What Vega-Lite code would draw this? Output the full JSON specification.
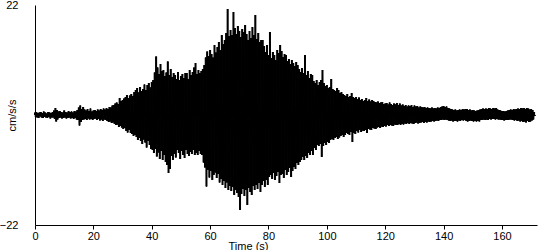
{
"$schema":"https://vega.github.io/schema/vega-lite/v6.json",
"width":502,"height":220,
"autosize":{"type":"none"},
"padding":{"left":35,"top":5,"right":13,"bottom":25},
"background":"white",
"config":{"view":{"stroke":null},"font":"Liberation Sans",
"axis":{"grid":false,"domainColor":"black","tickColor":"black","labelColor":"black","titleColor":"black","labelFont":"Liberation Sans","titleFont":"Liberation Sans","labelFontSize":11,"titleFontSize":11,"titleFontWeight":"normal","domainWidth":1,"tickWidth":1}},
"data":{"values":[
{"t":0,"a":0.5},{"t":0.25,"a":-0.4},{"t":0.5,"a":0.6},{"t":0.75,"a":-0.5},{"t":1,"a":0.4},{"t":1.25,"a":-0.6},{"t":1.5,"a":0.5},{"t":1.75,"a":-0.3},{"t":2,"a":0.6},{"t":2.25,"a":-0.5},{"t":2.5,"a":0.4},{"t":2.75,"a":-0.6},{"t":3,"a":0.7},{"t":3.25,"a":-0.4},{"t":3.5,"a":0.5},{"t":3.75,"a":-0.5},{"t":4,"a":0.3},{"t":4.25,"a":-0.6},{"t":4.5,"a":0.6},{"t":4.75,"a":-0.4},{"t":5,"a":0.5},{"t":5.25,"a":-0.7},{"t":5.5,"a":0.4},{"t":5.75,"a":-0.5},{"t":6,"a":0.6},{"t":6.25,"a":-0.5},{"t":6.5,"a":0.9},{"t":6.75,"a":-0.8},{"t":7,"a":1.4},{"t":7.25,"a":-1.3},{"t":7.5,"a":1.0},{"t":7.75,"a":-0.9},{"t":8,"a":0.7},{"t":8.25,"a":-0.6},{"t":8.5,"a":0.8},{"t":8.75,"a":-0.5},{"t":9,"a":0.6},{"t":9.25,"a":-0.7},{"t":9.5,"a":0.5},{"t":9.75,"a":-0.6},
{"t":10,"a":0.9},{"t":10.25,"a":-0.5},{"t":10.5,"a":0.6},{"t":10.75,"a":-0.7},{"t":11,"a":0.5},{"t":11.25,"a":-0.6},{"t":11.5,"a":0.8},{"t":11.75,"a":-0.5},{"t":12,"a":0.6},{"t":12.25,"a":-0.7},{"t":12.5,"a":0.7},{"t":12.75,"a":-0.6},{"t":13,"a":0.5},{"t":13.25,"a":-0.8},{"t":13.5,"a":0.8},{"t":13.75,"a":-0.6},{"t":14,"a":0.7},{"t":14.25,"a":-0.9},{"t":14.5,"a":1.0},{"t":14.75,"a":-1.0},{"t":15,"a":1.5},{"t":15.25,"a":-2.1},{"t":15.5,"a":1.9},{"t":15.75,"a":-1.4},{"t":16,"a":1.2},{"t":16.25,"a":-1.0},{"t":16.5,"a":1.6},{"t":16.75,"a":-0.9},{"t":17,"a":1.1},{"t":17.25,"a":-0.8},{"t":17.5,"a":0.9},{"t":17.75,"a":-1.0},{"t":18,"a":1.2},{"t":18.25,"a":-0.7},{"t":18.5,"a":0.8},{"t":18.75,"a":-0.9},{"t":19,"a":1.3},{"t":19.25,"a":-0.8},{"t":19.5,"a":0.7},{"t":19.75,"a":-1.0},
{"t":20,"a":0.9},{"t":20.25,"a":-0.8},{"t":20.5,"a":1.0},{"t":20.75,"a":-0.7},{"t":21,"a":0.8},{"t":21.25,"a":-1.0},{"t":21.5,"a":1.1},{"t":21.75,"a":-0.8},{"t":22,"a":0.9},{"t":22.25,"a":-1.1},{"t":22.5,"a":1.2},{"t":22.75,"a":-0.9},{"t":23,"a":1.0},{"t":23.25,"a":-1.2},{"t":23.5,"a":1.3},{"t":23.75,"a":-0.9},{"t":24,"a":1.1},{"t":24.25,"a":-1.0},{"t":24.5,"a":1.4},{"t":24.75,"a":-1.2},{"t":25,"a":1.2},{"t":25.25,"a":-1.4},{"t":25.5,"a":1.6},{"t":25.75,"a":-1.3},{"t":26,"a":1.5},{"t":26.25,"a":-1.6},{"t":26.5,"a":1.9},{"t":26.75,"a":-1.5},{"t":27,"a":2.0},{"t":27.25,"a":-1.8},{"t":27.5,"a":2.3},{"t":27.75,"a":-2.0},{"t":28,"a":2.5},{"t":28.25,"a":-1.9},{"t":28.5,"a":2.2},{"t":28.75,"a":-2.4},{"t":29,"a":3.4},{"t":29.25,"a":-2.2},{"t":29.5,"a":2.8},{"t":29.75,"a":-2.5},
{"t":30,"a":3.0},{"t":30.25,"a":-2.8},{"t":30.5,"a":3.3},{"t":30.75,"a":-2.6},{"t":31,"a":3.6},{"t":31.25,"a":-3.2},{"t":31.5,"a":4.0},{"t":31.75,"a":-3.5},{"t":32,"a":3.4},{"t":32.25,"a":-3.0},{"t":32.5,"a":3.9},{"t":32.75,"a":-3.6},{"t":33,"a":4.2},{"t":33.25,"a":-3.8},{"t":33.5,"a":3.8},{"t":33.75,"a":-4.2},{"t":34,"a":4.6},{"t":34.25,"a":-4.0},{"t":34.5,"a":5.0},{"t":34.75,"a":-4.4},{"t":35,"a":5.4},{"t":35.25,"a":-5.0},{"t":35.5,"a":4.5},{"t":35.75,"a":-4.6},{"t":36,"a":5.6},{"t":36.25,"a":-5.2},{"t":36.5,"a":4.8},{"t":36.75,"a":-5.8},{"t":37,"a":5.2},{"t":37.25,"a":-4.9},{"t":37.5,"a":6.1},{"t":37.75,"a":-5.5},{"t":38,"a":5.0},{"t":38.25,"a":-6.5},{"t":38.5,"a":6.0},{"t":38.75,"a":-5.2},{"t":39,"a":6.4},{"t":39.25,"a":-6.0},{"t":39.5,"a":5.5},{"t":39.75,"a":-6.8},
{"t":40,"a":6.6},{"t":40.25,"a":-7.0},{"t":40.5,"a":7.0},{"t":40.75,"a":-7.6},{"t":41,"a":8.5},{"t":41.25,"a":-6.8},{"t":41.5,"a":11.7},{"t":41.75,"a":-8.3},{"t":42,"a":9.5},{"t":42.25,"a":-7.5},{"t":42.5,"a":8.2},{"t":42.75,"a":-8.8},{"t":43,"a":10.2},{"t":43.25,"a":-7.2},{"t":43.5,"a":8.8},{"t":43.75,"a":-9.0},{"t":44,"a":9.0},{"t":44.25,"a":-8.0},{"t":44.5,"a":7.8},{"t":44.75,"a":-9.4},{"t":45,"a":8.5},{"t":45.25,"a":-10.0},{"t":45.5,"a":10.7},{"t":45.75,"a":-11.6},{"t":46,"a":8.0},{"t":46.25,"a":-10.8},{"t":46.5,"a":9.2},{"t":46.75,"a":-8.2},{"t":47,"a":7.6},{"t":47.25,"a":-9.0},{"t":47.5,"a":8.4},{"t":47.75,"a":-7.8},{"t":48,"a":8.0},{"t":48.25,"a":-8.5},{"t":48.5,"a":7.2},{"t":48.75,"a":-7.0},{"t":49,"a":8.6},{"t":49.25,"a":-7.6},{"t":49.5,"a":7.0},{"t":49.75,"a":-8.8},
{"t":50,"a":7.8},{"t":50.25,"a":-7.2},{"t":50.5,"a":8.2},{"t":50.75,"a":-8.0},{"t":51,"a":7.4},{"t":51.25,"a":-8.6},{"t":51.5,"a":8.4},{"t":51.75,"a":-7.0},{"t":52,"a":8.4},{"t":52.25,"a":-7.8},{"t":52.5,"a":7.2},{"t":52.75,"a":-8.2},{"t":53,"a":9.0},{"t":53.25,"a":-7.4},{"t":53.5,"a":8.0},{"t":53.75,"a":-7.8},{"t":54,"a":8.6},{"t":54.25,"a":-7.0},{"t":54.5,"a":9.5},{"t":54.75,"a":-8.0},{"t":55,"a":10.4},{"t":55.25,"a":-7.6},{"t":55.5,"a":8.2},{"t":55.75,"a":-8.0},{"t":56,"a":9.0},{"t":56.25,"a":-7.2},{"t":56.5,"a":8.4},{"t":56.75,"a":-7.8},{"t":57,"a":8.8},{"t":57.25,"a":-8.0},{"t":57.5,"a":9.2},{"t":57.75,"a":-9.5},{"t":58,"a":10.0},{"t":58.25,"a":-10.5},{"t":58.5,"a":11.5},{"t":58.75,"a":-14.3},{"t":59,"a":12.7},{"t":59.25,"a":-11.0},{"t":59.5,"a":11.8},{"t":59.75,"a":-12.5},
{"t":60,"a":13.0},{"t":60.25,"a":-11.2},{"t":60.5,"a":12.2},{"t":60.75,"a":-13.0},{"t":61,"a":11.5},{"t":61.25,"a":-12.0},{"t":61.5,"a":14.0},{"t":61.75,"a":-11.5},{"t":62,"a":12.5},{"t":62.25,"a":-12.6},{"t":62.5,"a":13.6},{"t":62.75,"a":-11.8},{"t":63,"a":14.6},{"t":63.25,"a":-13.5},{"t":63.5,"a":13.0},{"t":63.75,"a":-12.8},{"t":64,"a":16.0},{"t":64.25,"a":-14.0},{"t":64.5,"a":14.2},{"t":64.75,"a":-13.2},{"t":65,"a":15.0},{"t":65.25,"a":-14.6},{"t":65.5,"a":16.4},{"t":65.75,"a":-13.5},{"t":66,"a":21.2},{"t":66.25,"a":-15.0},{"t":66.5,"a":15.8},{"t":66.75,"a":-14.2},{"t":67,"a":17.0},{"t":67.25,"a":-15.2},{"t":67.5,"a":16.0},{"t":67.75,"a":-14.4},{"t":68,"a":20.6},{"t":68.25,"a":-16.0},{"t":68.5,"a":17.4},{"t":68.75,"a":-15.0},{"t":69,"a":16.2},{"t":69.25,"a":-15.6},{"t":69.5,"a":17.8},{"t":69.75,"a":-16.4},
{"t":70,"a":16.8},{"t":70.25,"a":-19.0},{"t":70.5,"a":15.6},{"t":70.75,"a":-15.8},{"t":71,"a":17.2},{"t":71.25,"a":-14.8},{"t":71.5,"a":16.6},{"t":71.75,"a":-16.2},{"t":72,"a":18.0},{"t":72.25,"a":-15.0},{"t":72.5,"a":16.2},{"t":72.75,"a":-18.0},{"t":73,"a":15.0},{"t":73.25,"a":-14.6},{"t":73.5,"a":16.8},{"t":73.75,"a":-15.4},{"t":74,"a":15.4},{"t":74.25,"a":-16.0},{"t":74.5,"a":17.6},{"t":74.75,"a":-14.2},{"t":75,"a":16.0},{"t":75.25,"a":-15.0},{"t":75.5,"a":20.0},{"t":75.75,"a":-14.0},{"t":76,"a":15.2},{"t":76.25,"a":-14.8},{"t":76.5,"a":16.4},{"t":76.75,"a":-13.6},{"t":77,"a":14.6},{"t":77.25,"a":-15.4},{"t":77.5,"a":15.0},{"t":77.75,"a":-14.0},{"t":78,"a":15.0},{"t":78.25,"a":-13.2},{"t":78.5,"a":13.8},{"t":78.75,"a":-14.4},{"t":79,"a":12.6},{"t":79.25,"a":-13.0},{"t":79.5,"a":14.0},{"t":79.75,"a":-14.0},
{"t":80,"a":12.0},{"t":80.25,"a":-12.4},{"t":80.5,"a":16.6},{"t":80.75,"a":-12.0},{"t":81,"a":11.4},{"t":81.25,"a":-12.8},{"t":81.5,"a":12.6},{"t":81.75,"a":-11.6},{"t":82,"a":12.0},{"t":82.25,"a":-13.0},{"t":82.5,"a":11.0},{"t":82.75,"a":-12.2},{"t":83,"a":13.0},{"t":83.25,"a":-11.4},{"t":83.5,"a":12.4},{"t":83.75,"a":-13.6},{"t":84,"a":14.0},{"t":84.25,"a":-12.0},{"t":84.5,"a":12.8},{"t":84.75,"a":-11.8},{"t":85,"a":11.6},{"t":85.25,"a":-12.6},{"t":85.5,"a":12.2},{"t":85.75,"a":-11.0},{"t":86,"a":12.0},{"t":86.25,"a":-12.0},{"t":86.5,"a":10.8},{"t":86.75,"a":-11.4},{"t":87,"a":11.2},{"t":87.25,"a":-10.6},{"t":87.5,"a":10.2},{"t":87.75,"a":-12.4},{"t":88,"a":11.0},{"t":88.25,"a":-11.2},{"t":88.5,"a":10.4},{"t":88.75,"a":-10.4},{"t":89,"a":9.8},{"t":89.25,"a":-10.8},{"t":89.5,"a":10.6},{"t":89.75,"a":-9.6},
{"t":90,"a":10.0},{"t":90.25,"a":-10.0},{"t":90.5,"a":9.2},{"t":90.75,"a":-9.4},{"t":91,"a":8.6},{"t":91.25,"a":-9.0},{"t":91.5,"a":9.4},{"t":91.75,"a":-8.4},{"t":92,"a":8.4},{"t":92.25,"a":-9.0},{"t":92.5,"a":12.0},{"t":92.75,"a":-8.2},{"t":93,"a":8.0},{"t":93.25,"a":-8.6},{"t":93.5,"a":8.8},{"t":93.75,"a":-7.6},{"t":94,"a":7.4},{"t":94.25,"a":-8.0},{"t":94.5,"a":8.2},{"t":94.75,"a":-7.2},{"t":95,"a":8.0},{"t":95.25,"a":-8.0},{"t":95.5,"a":6.8},{"t":95.75,"a":-6.6},{"t":96,"a":6.4},{"t":96.25,"a":-7.0},{"t":96.5,"a":7.0},{"t":96.75,"a":-6.0},{"t":97,"a":6.0},{"t":97.25,"a":-6.2},{"t":97.5,"a":6.6},{"t":97.75,"a":-5.8},{"t":98,"a":7.0},{"t":98.25,"a":-8.4},{"t":98.5,"a":9.0},{"t":98.75,"a":-6.2},{"t":99,"a":6.4},{"t":99.25,"a":-5.6},{"t":99.5,"a":5.8},{"t":99.75,"a":-6.0},
{"t":100,"a":6.0},{"t":100.25,"a":-5.4},{"t":100.5,"a":5.4},{"t":100.75,"a":-5.6},{"t":101,"a":5.6},{"t":101.25,"a":-5.0},{"t":101.5,"a":7.2},{"t":101.75,"a":-4.8},{"t":102,"a":5.2},{"t":102.25,"a":-5.0},{"t":102.5,"a":5.0},{"t":102.75,"a":-4.6},{"t":103,"a":4.8},{"t":103.25,"a":-4.4},{"t":103.5,"a":5.4},{"t":103.75,"a":-4.8},{"t":104,"a":5.0},{"t":104.25,"a":-4.5},{"t":104.5,"a":4.4},{"t":104.75,"a":-4.2},{"t":105,"a":4.6},{"t":105.25,"a":-4.0},{"t":105.5,"a":4.2},{"t":105.75,"a":-4.4},{"t":106,"a":4.0},{"t":106.25,"a":-4.0},{"t":106.5,"a":3.8},{"t":106.75,"a":-3.6},{"t":107,"a":4.2},{"t":107.25,"a":-3.8},{"t":107.5,"a":3.6},{"t":107.75,"a":-4.0},{"t":108,"a":3.8},{"t":108.25,"a":-3.4},{"t":108.5,"a":4.4},{"t":108.75,"a":-5.4},{"t":109,"a":3.6},{"t":109.25,"a":-3.6},{"t":109.5,"a":3.4},{"t":109.75,"a":-3.8},
{"t":110,"a":3.6},{"t":110.25,"a":-3.2},{"t":110.5,"a":3.2},{"t":110.75,"a":-3.5},{"t":111,"a":3.5},{"t":111.25,"a":-3.0},{"t":111.5,"a":3.0},{"t":111.75,"a":-3.4},{"t":112,"a":3.2},{"t":112.25,"a":-3.1},{"t":112.5,"a":2.8},{"t":112.75,"a":-3.2},{"t":113,"a":3.0},{"t":113.25,"a":-3.0},{"t":113.5,"a":3.4},{"t":113.75,"a":-3.6},{"t":114,"a":2.8},{"t":114.25,"a":-2.8},{"t":114.5,"a":3.1},{"t":114.75,"a":-2.9},{"t":115,"a":2.7},{"t":115.25,"a":-3.0},{"t":115.5,"a":3.0},{"t":115.75,"a":-2.6},{"t":116,"a":2.8},{"t":116.25,"a":-2.7},{"t":116.5,"a":2.6},{"t":116.75,"a":-2.8},{"t":117,"a":2.5},{"t":117.25,"a":-2.5},{"t":117.5,"a":2.7},{"t":117.75,"a":-2.4},{"t":118,"a":2.4},{"t":118.25,"a":-2.6},{"t":118.5,"a":2.5},{"t":118.75,"a":-2.3},{"t":119,"a":2.6},{"t":119.25,"a":-2.4},{"t":119.5,"a":2.2},{"t":119.75,"a":-2.2},
{"t":120,"a":2.3},{"t":120.25,"a":-2.3},{"t":120.5,"a":2.4},{"t":120.75,"a":-2.0},{"t":121,"a":2.1},{"t":121.25,"a":-2.2},{"t":121.5,"a":2.5},{"t":121.75,"a":-2.0},{"t":122,"a":2.2},{"t":122.25,"a":-2.1},{"t":122.5,"a":2.0},{"t":122.75,"a":-2.2},{"t":123,"a":2.3},{"t":123.25,"a":-1.9},{"t":123.5,"a":2.1},{"t":123.75,"a":-2.0},{"t":124,"a":2.4},{"t":124.25,"a":-2.0},{"t":124.5,"a":2.0},{"t":124.75,"a":-1.8},{"t":125,"a":2.3},{"t":125.25,"a":-2.0},{"t":125.5,"a":1.9},{"t":125.75,"a":-1.8},{"t":126,"a":2.1},{"t":126.25,"a":-1.9},{"t":126.5,"a":1.8},{"t":126.75,"a":-1.7},{"t":127,"a":2.0},{"t":127.25,"a":-1.8},{"t":127.5,"a":1.7},{"t":127.75,"a":-1.6},{"t":128,"a":1.9},{"t":128.25,"a":-1.8},{"t":128.5,"a":1.8},{"t":128.75,"a":-1.6},{"t":129,"a":2.0},{"t":129.25,"a":-1.7},{"t":129.5,"a":1.6},{"t":129.75,"a":-1.8},
{"t":130,"a":1.9},{"t":130.25,"a":-1.6},{"t":130.5,"a":1.7},{"t":130.75,"a":-1.5},{"t":131,"a":1.8},{"t":131.25,"a":-1.7},{"t":131.5,"a":1.5},{"t":131.75,"a":-1.6},{"t":132,"a":1.7},{"t":132.25,"a":-1.5},{"t":132.5,"a":1.6},{"t":132.75,"a":-1.4},{"t":133,"a":1.5},{"t":133.25,"a":-1.6},{"t":133.5,"a":1.6},{"t":133.75,"a":-1.4},{"t":134,"a":1.4},{"t":134.25,"a":-1.5},{"t":134.5,"a":1.5},{"t":134.75,"a":-1.3},{"t":135,"a":1.4},{"t":135.25,"a":-1.4},{"t":135.5,"a":1.3},{"t":135.75,"a":-1.3},{"t":136,"a":1.5},{"t":136.25,"a":-1.2},{"t":136.5,"a":1.3},{"t":136.75,"a":-1.3},{"t":137,"a":1.4},{"t":137.25,"a":-1.2},{"t":137.5,"a":1.3},{"t":137.75,"a":-1.1},{"t":138,"a":1.5},{"t":138.25,"a":-1.2},{"t":138.5,"a":1.4},{"t":138.75,"a":-1.0},{"t":139,"a":1.6},{"t":139.25,"a":-1.0},{"t":139.5,"a":1.7},{"t":139.75,"a":-0.9},
{"t":140,"a":1.8},{"t":140.25,"a":-1.0},{"t":140.5,"a":1.6},{"t":140.75,"a":-0.9},{"t":141,"a":1.7},{"t":141.25,"a":-1.0},{"t":141.5,"a":1.4},{"t":141.75,"a":-1.1},{"t":142,"a":1.3},{"t":142.25,"a":-1.2},{"t":142.5,"a":1.2},{"t":142.75,"a":-1.1},{"t":143,"a":1.1},{"t":143.25,"a":-1.3},{"t":143.5,"a":1.0},{"t":143.75,"a":-1.2},{"t":144,"a":1.1},{"t":144.25,"a":-1.2},{"t":144.5,"a":0.9},{"t":144.75,"a":-1.3},{"t":145,"a":1.0},{"t":145.25,"a":-1.1},{"t":145.5,"a":1.1},{"t":145.75,"a":-1.2},{"t":146,"a":1.0},{"t":146.25,"a":-1.0},{"t":146.5,"a":1.2},{"t":146.75,"a":-1.1},{"t":147,"a":1.1},{"t":147.25,"a":-1.0},{"t":147.5,"a":1.2},{"t":147.75,"a":-1.2},{"t":148,"a":1.2},{"t":148.25,"a":-1.3},{"t":148.5,"a":1.0},{"t":148.75,"a":-1.2},{"t":149,"a":1.1},{"t":149.25,"a":-1.1},{"t":149.5,"a":0.9},{"t":149.75,"a":-1.2},
{"t":150,"a":1.0},{"t":150.25,"a":-1.3},{"t":150.5,"a":0.9},{"t":150.75,"a":-1.2},{"t":151,"a":0.8},{"t":151.25,"a":-1.3},{"t":151.5,"a":0.9},{"t":151.75,"a":-1.2},{"t":152,"a":1.0},{"t":152.25,"a":-1.3},{"t":152.5,"a":1.1},{"t":152.75,"a":-1.0},{"t":153,"a":1.2},{"t":153.25,"a":-1.0},{"t":153.5,"a":1.3},{"t":153.75,"a":-0.9},{"t":154,"a":1.2},{"t":154.25,"a":-1.0},{"t":154.5,"a":1.3},{"t":154.75,"a":-0.9},{"t":155,"a":1.2},{"t":155.25,"a":-1.0},{"t":155.5,"a":1.4},{"t":155.75,"a":-0.8},{"t":156,"a":1.3},{"t":156.25,"a":-0.9},{"t":156.5,"a":1.2},{"t":156.75,"a":-0.8},{"t":157,"a":1.4},{"t":157.25,"a":-0.8},{"t":157.5,"a":1.3},{"t":157.75,"a":-0.9},{"t":158,"a":1.4},{"t":158.25,"a":-0.8},{"t":158.5,"a":1.1},{"t":158.75,"a":-0.9},{"t":159,"a":1.0},{"t":159.25,"a":-0.9},{"t":159.5,"a":0.9},{"t":159.75,"a":-1.0},
{"t":160,"a":0.8},{"t":160.25,"a":-1.0},{"t":160.5,"a":0.8},{"t":160.75,"a":-1.1},{"t":161,"a":0.7},{"t":161.25,"a":-1.0},{"t":161.5,"a":0.8},{"t":161.75,"a":-1.0},{"t":162,"a":0.9},{"t":162.25,"a":-1.0},{"t":162.5,"a":1.0},{"t":162.75,"a":-0.9},{"t":163,"a":1.1},{"t":163.25,"a":-0.9},{"t":163.5,"a":1.0},{"t":163.75,"a":-1.0},{"t":164,"a":1.2},{"t":164.25,"a":-1.1},{"t":164.5,"a":1.1},{"t":164.75,"a":-1.0},{"t":165,"a":1.2},{"t":165.25,"a":-1.2},{"t":165.5,"a":1.3},{"t":165.75,"a":-1.1},{"t":166,"a":1.2},{"t":166.25,"a":-1.3},{"t":166.5,"a":1.4},{"t":166.75,"a":-1.2},{"t":167,"a":1.3},{"t":167.25,"a":-1.4},{"t":167.5,"a":1.4},{"t":167.75,"a":-1.3},{"t":168,"a":1.2},{"t":168.25,"a":-1.5},{"t":168.5,"a":1.4},{"t":168.75,"a":-1.2},{"t":169,"a":1.3},{"t":169.25,"a":-1.4},{"t":169.5,"a":1.1},{"t":169.75,"a":-1.3},
{"t":170,"a":1.2},{"t":170.25,"a":-1.1},{"t":170.5,"a":1.0},{"t":170.75,"a":-0.9},{"t":171,"a":0.6},{"t":171.25,"a":-0.2}
]},
"encoding":{
"x":{"field":"t","type":"quantitative","scale":{"domain":[0,172],"nice":false,"zero":false},
"axis":{"title":"Time (s)","values":[0,20,40,60,80,100,120,140,160],"tickSize":4,"labelPadding":1,"labelFlush":false,"titleX":213,"titleY":15,"titleBaseline":"top","titleAlign":"center","titlePadding":0}},
"y":{"field":"a","type":"quantitative","scale":{"domain":[-22,22],"nice":false,"zero":false},
"axis":{"title":"cm/s/s","values":[-22,22],"ticks":false,"labelPadding":17,"labelFlush":false,"titleX":-23,"titleY":110,"titleAngle":-90,"titleAlign":"center","titleBaseline":"middle"}}
},
"layer":[
{"mark":{"type":"rule","color":"black","strokeWidth":2},"encoding":{"y2":{"datum":0}}},
{"mark":{"type":"line","color":"black","strokeWidth":1,"interpolate":"linear"},"encoding":{}}
]
}
